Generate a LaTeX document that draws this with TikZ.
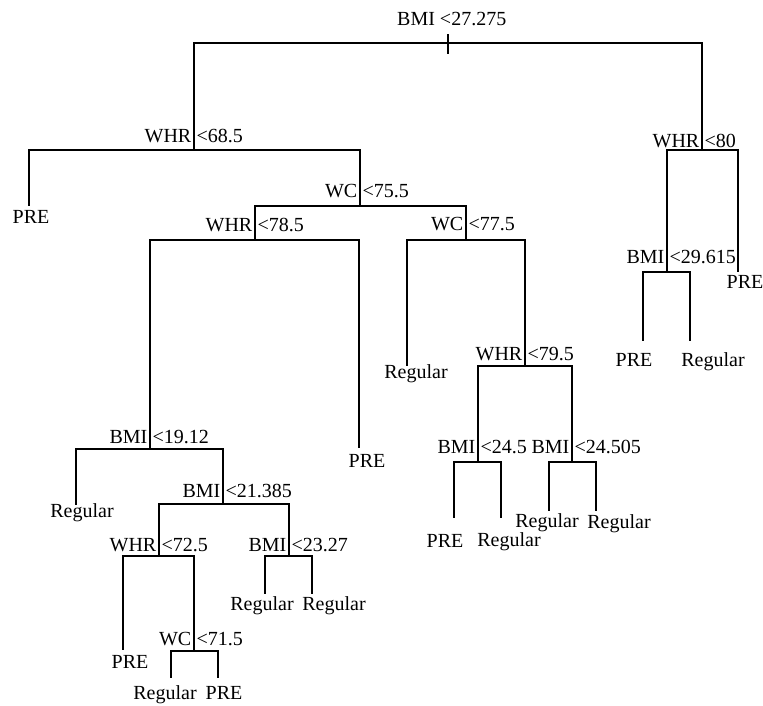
\documentclass[tikz,border=0pt]{standalone}
\usepackage{fontspec}
\setmainfont{Liberation Serif}
\begin{document}
\begin{tikzpicture}[x=1pt,y=-1pt,
  edge/.style={line width=1.5pt},
  tick/.style={line width=1.2pt},
  varname/.style={anchor=base east,inner sep=0pt,font=\fontsize{20}{24}\selectfont},
  varval/.style={anchor=base west,inner sep=0pt,font=\fontsize{20}{24}\selectfont},
  leaflabel/.style={anchor=base,inner sep=0pt,font=\fontsize{20}{24}\selectfont},
  rootlabel/.style={anchor=base west,inner sep=0pt,font=\fontsize{20}{24}\selectfont}]
\useasboundingbox (0,0) rectangle (763,705);

% split points
\coordinate (r) at (448,43);
\coordinate (A) at (194,150);
\coordinate (B) at (360,206);
\coordinate (C) at (255,240);
\coordinate (D) at (466,240);
\coordinate (E) at (150,449);
\coordinate (F) at (223,504);
\coordinate (G) at (159,556);
\coordinate (H) at (289,556);
\coordinate (I) at (194,651);
\coordinate (J) at (525,366);
\coordinate (K) at (478,462);
\coordinate (L) at (572,462);
\coordinate (M) at (702,150);
\coordinate (N) at (667,272);
% leaf ends
\coordinate (a1) at (29,206);
\coordinate (c2) at (359,448);
\coordinate (e1) at (76,505);
\coordinate (g1) at (123,650);
\coordinate (i1) at (171,678);
\coordinate (i2) at (218,678);
\coordinate (h1) at (265,594);
\coordinate (h2) at (312,594);
\coordinate (d1) at (407,366);
\coordinate (k1) at (454,518);
\coordinate (k2) at (501,518);
\coordinate (l1) at (549,511);
\coordinate (l2) at (596,511);
\coordinate (n1) at (643,341);
\coordinate (n2) at (690,341);
\coordinate (m2) at (738,272);
\coordinate (rt) at (448,34);
\coordinate (rb) at (448,54);

% edges
\draw[edge] (r) -| (A);  \draw[edge] (r) -| (M);
\draw[edge] (A) -| (a1); \draw[edge] (A) -| (B);
\draw[edge] (B) -| (C);  \draw[edge] (B) -| (D);
\draw[edge] (C) -| (E);  \draw[edge] (C) -| (c2);
\draw[edge] (E) -| (e1); \draw[edge] (E) -| (F);
\draw[edge] (F) -| (G);  \draw[edge] (F) -| (H);
\draw[edge] (G) -| (g1); \draw[edge] (G) -| (I);
\draw[edge] (I) -| (i1); \draw[edge] (I) -| (i2);
\draw[edge] (H) -| (h1); \draw[edge] (H) -| (h2);
\draw[edge] (D) -| (d1); \draw[edge] (D) -| (J);
\draw[edge] (J) -| (K);  \draw[edge] (J) -| (L);
\draw[edge] (K) -| (k1); \draw[edge] (K) -| (k2);
\draw[edge] (L) -| (l1); \draw[edge] (L) -| (l2);
\draw[edge] (M) -| (N);  \draw[edge] (M) -| (m2);
\draw[edge] (N) -| (n1); \draw[edge] (N) -| (n2);
\draw[tick] (rt) -- (rb);

% root label
\node[rootlabel] (lr) at (397,25) {BMI <27.275};
% split labels
\node[varname] (lAn) at (191.5,142) {WHR}; \node[varval] (lAv) at (196.5,142) {<68.5};
\node[varname] (lBn) at (357.5,197) {WC};  \node[varval] (lBv) at (362.5,197) {<75.5};
\node[varname] (lCn) at (252.5,231) {WHR}; \node[varval] (lCv) at (257.5,231) {<78.5};
\node[varname] (lDn) at (463.5,230) {WC};  \node[varval] (lDv) at (468.5,230) {<77.5};
\node[varname] (lEn) at (147.5,443) {BMI}; \node[varval] (lEv) at (152.5,443) {<19.12};
\node[varname] (lFn) at (220.5,497) {BMI}; \node[varval] (lFv) at (225.5,497) {<21.385};
\node[varname] (lGn) at (156.5,551) {WHR}; \node[varval] (lGv) at (161.5,551) {<72.5};
\node[varname] (lHn) at (286.5,551) {BMI}; \node[varval] (lHv) at (291.5,551) {<23.27};
\node[varname] (lIn) at (191.5,645) {WC};  \node[varval] (lIv) at (196.5,645) {<71.5};
\node[varname] (lJn) at (522.5,360) {WHR}; \node[varval] (lJv) at (527.5,360) {<79.5};
\node[varname] (lKn) at (475.5,453) {BMI}; \node[varval] (lKv) at (480.5,453) {<24.5};
\node[varname] (lLn) at (569.5,453) {BMI}; \node[varval] (lLv) at (574.5,453) {<24.505};
\node[varname] (lMn) at (699.5,147) {WHR}; \node[varval] (lMv) at (704.5,147) {<80};
\node[varname] (lNn) at (664.5,263) {BMI}; \node[varval] (lNv) at (669.5,263) {<29.615};

% leaf labels
\node[leaflabel] (ta1) at (31,223) {PRE};
\node[leaflabel] (tc2) at (367,467) {PRE};
\node[leaflabel] (te1) at (82,517) {Regular};
\node[leaflabel] (tg1) at (130,668) {PRE};
\node[leaflabel] (ti1) at (165,699) {Regular};
\node[leaflabel] (ti2) at (224,699) {PRE};
\node[leaflabel] (th1) at (262,610) {Regular};
\node[leaflabel] (th2) at (334,610) {Regular};
\node[leaflabel] (td1) at (416,378) {Regular};
\node[leaflabel] (tk1) at (445,547) {PRE};
\node[leaflabel] (tk2) at (509,546) {Regular};
\node[leaflabel] (tl1) at (547,527) {Regular};
\node[leaflabel] (tl2) at (619,528) {Regular};
\node[leaflabel] (tn1) at (634,366) {PRE};
\node[leaflabel] (tn2) at (713,366) {Regular};
\node[leaflabel] (tm2) at (745,288) {PRE};
\end{tikzpicture}
\end{document}
